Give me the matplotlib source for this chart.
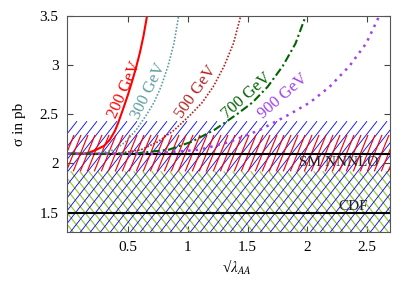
#!/usr/bin/env python3

'''
Cross section vs sqrt(lambda_AA) for several masses, with SM / CDF bands.
'''

import numpy as np
import matplotlib
matplotlib.use('Agg')
import matplotlib.pyplot as pl
from matplotlib.collections import LineCollection

# curves: sqrt(lambda_AA) -> sigma [pb]
x200 = [0.0, 0.15, 0.236, 0.30, 0.347, 0.39, 0.417, 0.458, 0.50, 0.528, 0.564, 0.60, 0.63, 0.659]
y200 = [2.10, 2.10, 2.14, 2.18, 2.24, 2.33, 2.41, 2.55, 2.70, 2.81, 2.96, 3.13, 3.30, 3.50]

x300 = [0.0, 0.25, 0.39, 0.479, 0.568, 0.657, 0.717, 0.776, 0.834, 0.884, 0.923]
y300 = [2.10, 2.10, 2.14, 2.22, 2.34, 2.50, 2.62, 2.78, 2.99, 3.22, 3.50]

x500 = [0.0, 0.40, 0.61, 0.749, 0.887, 1.026, 1.12, 1.212, 1.303, 1.381, 1.442]
y500 = [2.10, 2.10, 2.14, 2.22, 2.34, 2.50, 2.62, 2.78, 2.99, 3.22, 3.50]

x700 = [0.0, 0.55, 0.84, 1.03, 1.22, 1.41, 1.54, 1.667, 1.793, 1.90, 1.985]
y700 = [2.10, 2.10, 2.14, 2.22, 2.34, 2.50, 2.62, 2.78, 2.99, 3.22, 3.50]

x900 = [0.0, 0.70, 1.10, 1.35, 1.60, 1.85, 2.02, 2.185, 2.35, 2.49, 2.60]
y900 = [2.10, 2.10, 2.14, 2.22, 2.34, 2.50, 2.62, 2.78, 2.99, 3.22, 3.50]

labels = ['200 GeV', '300 GeV', '500 GeV', '700 GeV', '900 GeV']

# bands and reference values
sm_nnlo = 2.10
cdf = 1.50
band_blue = (1.3, 2.43)
band_red = (1.92, 2.29)
band_green = (1.3, 1.92)

xlim = (-0.01, 2.69)
ylim = (1.3, 3.5)
figw, figh, dpi = 4.15, 2.91, 100
axpos = [0.1614, 0.2017, 0.7784, 0.7433]


def hatch_band(ax, y0, y1, color, angle, step, lw=0.8):
    '''
    Draws hatch lines at a given angle (degrees, pixel space) and
    spacing (pixels along x) between y0 and y1.
    '''
    sx = axpos[2]*figw*dpi/(xlim[1]-xlim[0])
    sy = axpos[3]*figh*dpi/(ylim[1]-ylim[0])
    dxspan = (y1-y0)*sy/(sx*np.tan(np.radians(angle)))
    st = step/sx
    starts = np.arange(xlim[0]-abs(dxspan)-st, xlim[1]+abs(dxspan)+st, st)
    segs = [[(s, y0), (s+dxspan, y1)] for s in starts]
    ax.add_collection(LineCollection(segs, colors=color, linewidths=lw), autolim=False)


pl.rcParams['font.family'] = ['Liberation Serif', 'DejaVu Serif']
pl.rcParams['mathtext.fontset'] = 'stix'

fig = pl.figure(figsize=(figw, figh), dpi=dpi)
ax = fig.add_axes(axpos)

hatch_band(ax, *band_green, '#9acd32', 128, 9.0, lw=0.9)
hatch_band(ax, *band_blue, '#0000ff', 52, 10.0, lw=0.6)
hatch_band(ax, *band_red, '#ff0000', 68, 7.0, lw=0.85)

ax.axhline(sm_nnlo, color='black', lw=1.5)
ax.axhline(cdf, color='black', lw=1.5)

ax.plot(x200, y200, color='#ff0000', lw=1.5, ls='-')
ax.plot(x300, y300, color='#5f9ea0', lw=1.2, ls=(0, (1, 1)))
ax.plot(x500, y500, color='#b22222', lw=1.2, ls=(0, (1, 1)))
ax.plot(x700, y700, color='#006400', lw=1.5, ls=(0, (4, 1.5, 1, 1.5)))
ax.plot(x900, y900, color='#a040f0', lw=1.8, ls=(0, (1, 2)))

# rotated curve labels
lab_opts = [(0.47, 2.75, 66, '#ff0000'),
            (0.673, 2.74, 64, '#5f9ea0'),
            (1.066, 2.73, 55, '#b22222'),
            (1.49, 2.69, 42, '#006400'),
            (1.795, 2.68, 41, '#a040f0')]
for lab, (lx, ly, rot, col) in zip(labels, lab_opts):
    ax.text(lx, ly, lab, color=col, rotation=rot, fontsize=12,
            ha='center', va='center', rotation_mode='anchor')

ax.text(2.59, 2.01, 'SM NNNLO', fontsize=11, ha='right', va='center', color='#222222')
ax.text(2.51, 1.565, 'CDF', fontsize=11, ha='right', va='center', color='#222222')

ax.set_xlim(*xlim)
ax.set_ylim(*ylim)
ax.set_xticks([0.5, 1, 1.5, 2, 2.5])
ax.set_xticklabels(['0.5', '1', '1.5', '2', '2.5'])
ax.set_yticks([1.5, 2, 2.5, 3, 3.5])
ax.set_yticklabels(['1.5', '2', '2.5', '3', '3.5'])
ax.tick_params(direction='in', top=True, right=True, length=4, labelsize=11,
               color='#444444', pad=6)
for sp in ax.spines.values():
    sp.set_color('#555555')

ax.set_xlabel(r'√$\lambda_{AA}$', fontsize=11)
ax.xaxis.set_label_coords(0.526, -0.12)
ax.set_ylabel(r'σ in pb', fontsize=11, labelpad=10)

pl.savefig('out.png', dpi=dpi)
